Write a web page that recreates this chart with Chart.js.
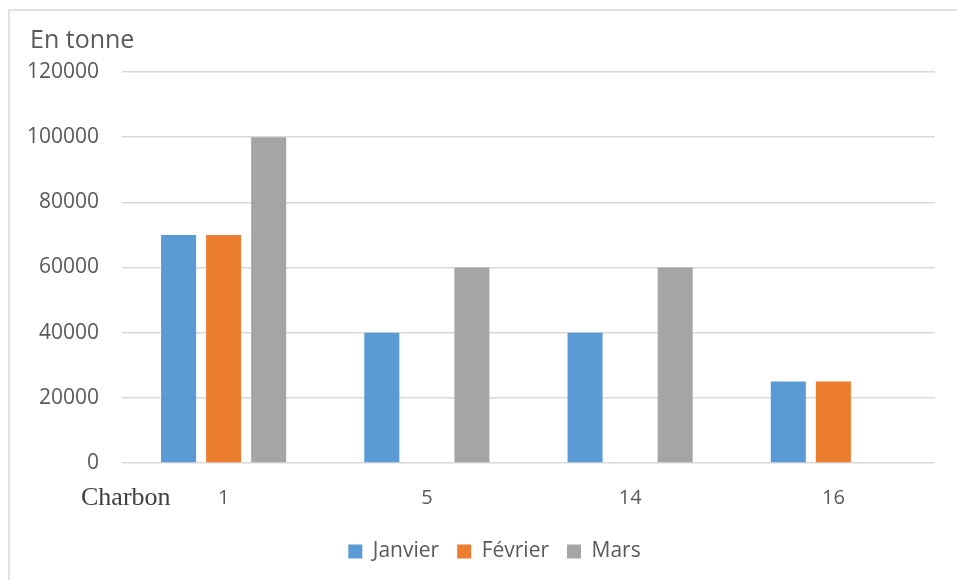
<!DOCTYPE html>
<html>
<head>
<meta charset="utf-8">
<script src="https://cdn.jsdelivr.net/npm/chart.js@4/dist/chart.umd.min.js"></script>
<style>
  html, body { margin: 0; padding: 0; background: #ffffff; overflow: hidden; }
  #wrap { position: relative; width: 957px; height: 580px; }
  canvas { display: block; }
</style>
</head>
<body>
<div id="wrap"><canvas id="c" width="957" height="580"></canvas></div>
<script>
// Charbon tonnage by site, per month
const categories = ['1', '5', '14', '16'];
const janvier = [70000, 40000, 40000, 25000];
const fevrier = [70000, 0, 0, 25000];
const mars = [100000, 60000, 60000, 0];
const seriesNames = ['Janvier', 'Février', 'Mars'];
const yTicks = [0, 20000, 40000, 60000, 80000, 100000, 120000];

const TEXT = '#595959';
const SANS = "'Open Sans', 'Liberation Sans', sans-serif";

// Frame, unit caption and row caption drawn around the plot;
// the legend row is nudged right so it sits under the plot's centre
const decorations = {
  id: 'decorations',
  afterLayout(chart) {
    if (chart.legend) {
      chart.legend.left += 27;
      chart.legend.right += 27;
    }
  },
  beforeDraw(chart) {
    const ctx = chart.ctx;
    ctx.save();
    ctx.strokeStyle = '#d9d9d9';
    ctx.lineWidth = 1.5;
    ctx.strokeRect(9, 10, 1200, 1200);
    ctx.restore();
  },
  afterDraw(chart) {
    const ctx = chart.ctx;
    const area = chart.chartArea;
    ctx.save();
    ctx.fillStyle = TEXT;
    ctx.font = "25px " + SANS;
    ctx.textAlign = 'left';
    ctx.textBaseline = 'alphabetic';
    ctx.fillText('En tonne', 30, area.top - 24);
    ctx.fillStyle = '#404040';
    ctx.font = "26px 'Liberation Serif', 'Times New Roman', serif";
    ctx.fillText('Charbon', 81, area.bottom + 42);
    ctx.restore();
  }
};

new Chart(document.getElementById('c'), {
  type: 'bar',
  data: {
    labels: categories,
    datasets: [
      { label: seriesNames[0], data: janvier, backgroundColor: '#5b9bd5' },
      { label: seriesNames[1], data: fevrier, backgroundColor: '#ed7d31' },
      { label: seriesNames[2], data: mars, backgroundColor: '#a5a5a5' }
    ]
  },
  options: {
    responsive: false,
    animation: false,
    devicePixelRatio: 1,
    layout: { padding: { left: 0, right: 22, top: 72, bottom: 8 } },
    datasets: {
      bar: { categoryPercentage: 0.665, barPercentage: 0.778 }
    },
    scales: {
      x: {
        grid: { display: false },
        border: { display: false },
        ticks: { color: TEXT, font: { family: SANS, size: 20 }, padding: 15 },
        afterFit(scale) { scale.height = 60; }
      },
      y: {
        min: 0,
        max: 120000,
        afterBuildTicks(scale) { scale.ticks = yTicks.map(v => ({ value: v })); },
        grid: { color: '#d9d9d9', lineWidth: 1.5, drawTicks: false },
        border: { display: false },
        ticks: {
          color: TEXT,
          font: { family: SANS, size: 21 },
          padding: 23,
          callback: (v) => String(v)
        },
        afterFit(scale) { scale.width = 122; }
      }
    },
    plugins: {
      tooltip: { enabled: false },
      legend: {
        position: 'bottom',
        labels: {
          color: TEXT,
          font: { family: SANS, size: 21 },
          boxWidth: 14,
          boxHeight: 14,
          padding: 18
        }
      }
    }
  },
  plugins: [decorations]
});
</script>
</body>
</html>
